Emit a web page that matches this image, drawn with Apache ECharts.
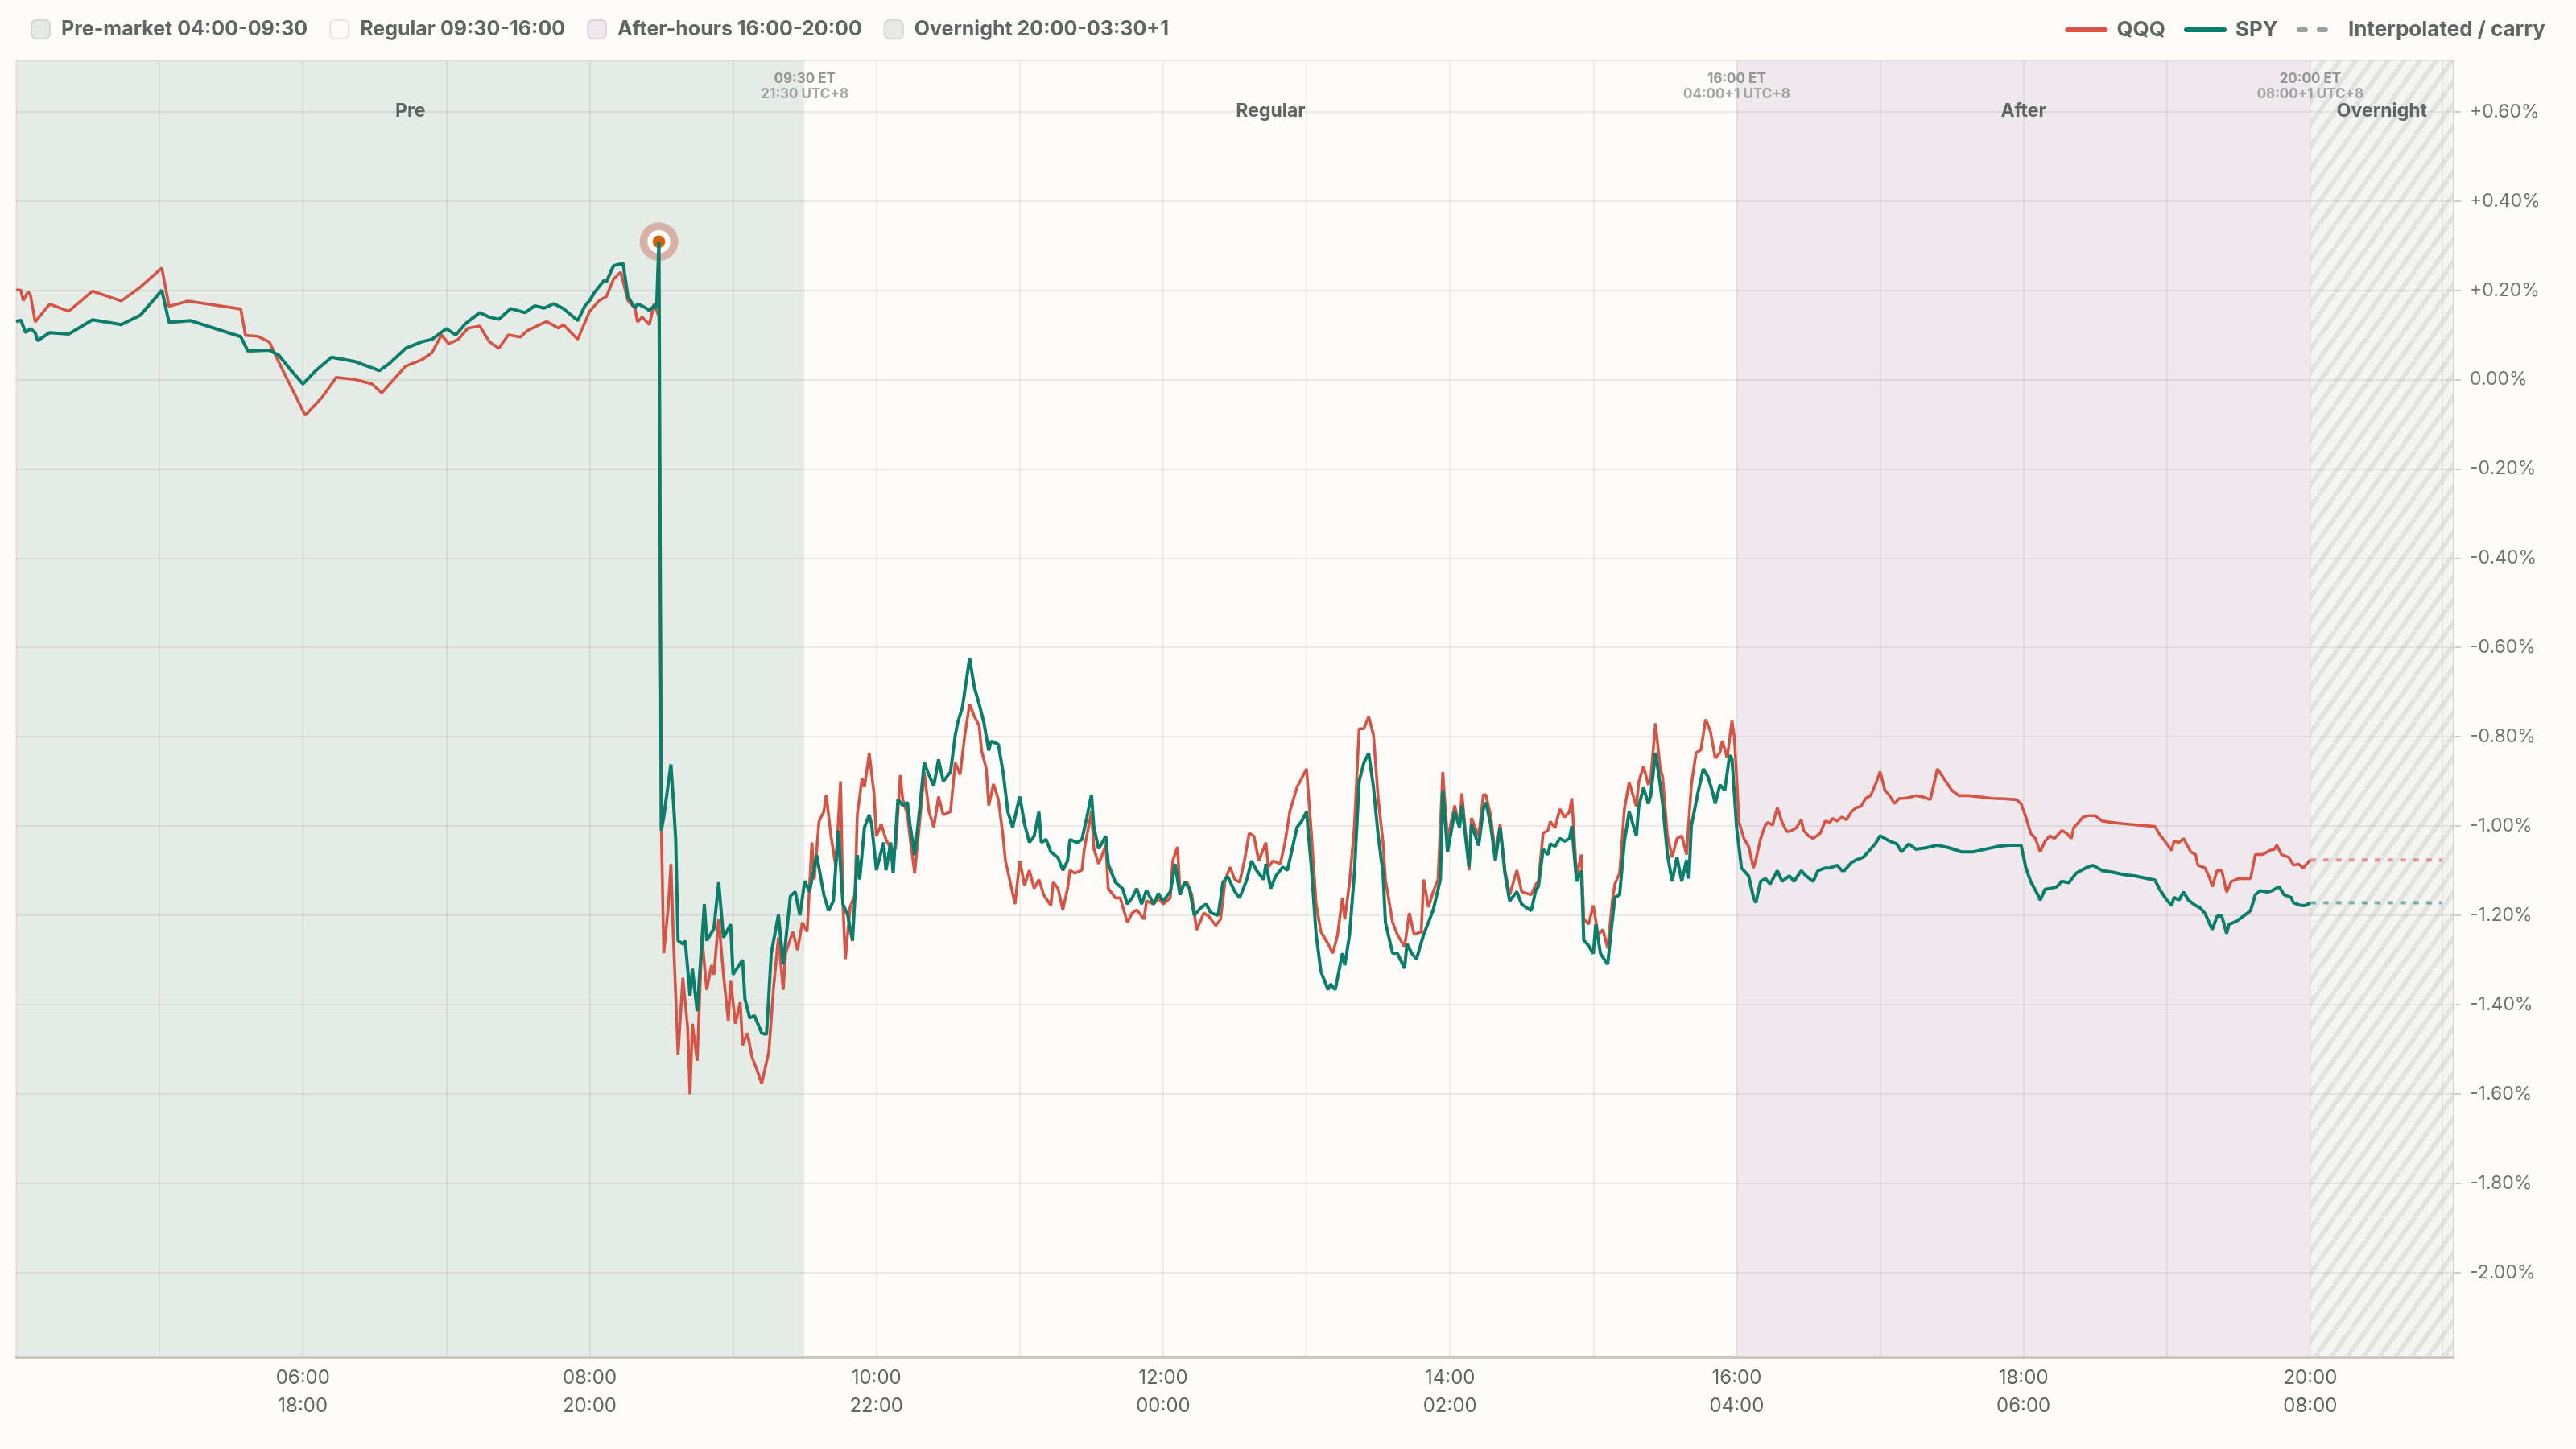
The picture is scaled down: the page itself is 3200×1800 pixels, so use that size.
<!DOCTYPE html>
<html>
<head>
<meta charset="utf-8">
<script src="https://cdn.jsdelivr.net/npm/echarts@6/dist/echarts.min.js"></script>
<style>
  html, body { margin: 0; padding: 0; background: #fdfcf8; }
  #chart { width: 3200px; height: 1800px; }
</style>
</head>
<body>
<div id="chart"></div>
<script>
// sessions (ET)
const SESSION_NAMES = ['Pre-market 04:00-09:30', 'Regular 09:30-16:00', 'After-hours 16:00-20:00', 'Overnight 20:00-03:30+1'];
const SESSION_TAGS = ['Pre', 'Regular', 'After', 'Overnight'];
const SESSION_START = ['04:00', '09:30', '16:00', '20:00'];
const SESSION_END = ['09:30', '16:00', '20:00', '21:00'];

const BOUNDARY_TIMES = ['09:30', '16:00', '20:00'];
const BOUNDARY_ET = ['09:30 ET', '16:00 ET', '20:00 ET'];
const BOUNDARY_LOCAL = ['21:30 UTC+8', '04:00+1 UTC+8', '08:00+1 UTC+8'];

const X_TICK_ET = ['06:00', '08:00', '10:00', '12:00', '14:00', '16:00', '18:00', '20:00'];
const X_TICK_LOCAL = ['18:00', '20:00', '22:00', '00:00', '02:00', '04:00', '06:00', '08:00'];

const EVENT_POINT = ['08:29', 0.309];
const CARRY_UNTIL = '20:55';

// % change vs previous close
const QQQ = [
  ['04:00',0.201],['04:02',0.200],['04:03',0.177],['04:05',0.197],['04:06',0.19],['04:08',0.129],['04:14',0.169],['04:22',0.153],
  ['04:32',0.198],['04:44',0.176],['04:52',0.207],['05:01',0.250],['05:04',0.164],['05:12',0.176],['05:34',0.158],['05:36',0.099],
  ['05:41',0.097],['05:46',0.084],['05:51',0.027],['06:01',-0.08],['06:08',-0.04],['06:14',0.005],['06:22',0.0],['06:29',-0.01],
  ['06:33',-0.03],['06:38',0.0],['06:43',0.03],['06:50',0.045],['06:54',0.06],['06:58',0.10],['07:01',0.08],['07:05',0.09],
  ['07:09',0.115],['07:14',0.12],['07:18',0.085],['07:22',0.07],['07:26',0.10],['07:31',0.095],['07:34',0.11],['07:38',0.12],
  ['07:42',0.13],['07:47',0.115],['07:49',0.123],['07:55',0.09],['08:00',0.153],['08:04',0.177],['08:07',0.186],['08:10',0.225],
  ['08:12',0.236],['08:13',0.24],['08:16',0.177],['08:19',0.159],['08:20',0.129],['08:22',0.14],['08:25',0.123],['08:27',0.17],
  ['08:29',0.14],['08:30',-1.0],['08:31',-1.285],['08:33',-1.175],['08:34',-1.085],['08:35',-1.243],['08:37',-1.512],['08:39',-1.34],
  ['08:41',-1.45],['08:42',-1.601],['08:43',-1.443],['08:45',-1.526],['08:47',-1.25],['08:49',-1.367],['08:51',-1.312],['08:52',-1.333],
  ['08:54',-1.209],['08:56',-1.333],['08:58',-1.436],['08:59',-1.347],['09:01',-1.443],['09:03',-1.395],['09:04',-1.491],['09:06',-1.464],
  ['09:08',-1.519],['09:10',-1.546],['09:12',-1.577],['09:15',-1.505],['09:17',-1.36],['09:19',-1.25],['09:21',-1.367],['09:22',-1.285],
  ['09:25',-1.237],['09:27',-1.278],['09:29',-1.216],['09:31',-1.237],['09:33',-1.037],['09:34',-1.12],['09:36',-0.989],['09:38',-0.968],
  ['09:39',-0.93],['09:41',-1.023],['09:43',-1.092],['09:45',-0.9],['09:46',-1.175],['09:47',-1.298],['09:49',-1.182],['09:51',-1.154],
  ['09:52',-0.975],['09:54',-0.893],['09:55',-0.913],['09:57',-0.837],['09:59',-0.927],['10:00',-1.023],['10:02',-0.996],['10:04',-1.03],
  ['10:06',-1.051],['10:08',-1.051],['10:10',-0.886],['10:11',-0.94],['10:13',-0.975],['10:14',-1.023],['10:16',-1.106],['10:18',-0.996],
  ['10:20',-0.879],['10:22',-0.968],['10:24',-1.003],['10:26',-0.934],['10:28',-0.975],['10:31',-0.968],['10:33',-0.858],['10:35',-0.885],
  ['10:37',-0.796],['10:39',-0.727],['10:41',-0.755],['10:43',-0.775],['10:44',-0.831],['10:46',-0.872],['10:47',-0.954],['10:49',-0.906],
  ['10:51',-0.94],['10:53',-1.023],['10:54',-1.078],['10:56',-1.126],['10:58',-1.175],['11:00',-1.078],['11:02',-1.133],['11:04',-1.099],
  ['11:06',-1.14],['11:08',-1.12],['11:10',-1.154],['11:13',-1.178],['11:14',-1.126],['11:16',-1.14],['11:18',-1.188],['11:20',-1.14],
  ['11:21',-1.099],['11:23',-1.106],['11:26',-1.099],['11:27',-1.051],['11:30',-0.968],['11:31',-1.051],['11:33',-1.085],['11:36',-1.044],
  ['11:37',-1.14],['11:40',-1.161],['11:42',-1.161],['11:45',-1.216],['11:47',-1.195],['11:49',-1.188],['11:52',-1.209],['11:53',-1.168],
  ['11:56',-1.175],['11:58',-1.161],['12:00',-1.175],['12:03',-1.161],['12:04',-1.078],['12:06',-1.047],['12:07',-1.14],['12:10',-1.126],
  ['12:12',-1.154],['12:14',-1.233],['12:17',-1.195],['12:19',-1.202],['12:22',-1.223],['12:24',-1.209],['12:26',-1.12],['12:28',-1.092],
  ['12:30',-1.12],['12:32',-1.126],['12:34',-1.078],['12:36',-1.016],['12:38',-1.023],['12:40',-1.078],['12:43',-1.037],['12:44',-1.092],
  ['12:46',-1.078],['12:49',-1.085],['12:51',-1.037],['12:53',-0.968],['12:56',-0.913],['12:58',-0.893],['13:00',-0.872],['13:02',-1.016],
  ['13:04',-1.175],['13:06',-1.237],['13:09',-1.264],['13:11',-1.285],['13:13',-1.243],['13:15',-1.161],['13:16',-1.209],['13:18',-1.126],
  ['13:20',-1.003],['13:22',-0.782],['13:24',-0.782],['13:26',-0.755],['13:28',-0.796],['13:30',-0.94],['13:32',-1.037],['13:33',-1.12],
  ['13:36',-1.216],['13:38',-1.243],['13:41',-1.271],['13:43',-1.195],['13:45',-1.243],['13:48',-1.237],['13:49',-1.12],['13:51',-1.182],
  ['13:53',-1.147],['13:55',-1.12],['13:57',-0.879],['13:59',-1.03],['14:02',-0.954],['14:04',-1.003],['14:05',-0.927],['14:08',-1.099],
  ['14:09',-0.982],['14:12',-1.023],['14:14',-0.93],['14:15',-0.93],['14:17',-0.975],['14:19',-1.065],['14:21',-0.996],['14:23',-1.099],
  ['14:25',-1.154],['14:28',-1.099],['14:30',-1.147],['14:34',-1.154],['14:36',-1.13],['14:37',-1.124],['14:39',-1.016],['14:41',-1.01],
  ['14:42',-0.99],['14:44',-1.004],['14:46',-0.962],['14:48',-0.98],['14:50',-0.968],['14:51',-0.938],['14:53',-1.112],['14:55',-1.064],
  ['14:56',-1.208],['14:58',-1.22],['15:00',-1.178],['15:02',-1.244],['15:04',-1.232],['15:06',-1.274],['15:08',-1.166],['15:09',-1.13],
  ['15:11',-1.106],['15:13',-0.962],['15:15',-0.902],['15:18',-0.956],['15:19',-0.902],['15:21',-0.866],['15:23',-0.908],['15:24',-0.896],
  ['15:26',-0.77],['15:28',-0.872],['15:29',-0.89],['15:31',-1.022],['15:33',-1.07],['15:35',-1.028],['15:37',-1.022],['15:39',-1.064],
  ['15:41',-0.908],['15:43',-0.836],['15:45',-0.83],['15:47',-0.761],['15:49',-0.788],['15:51',-0.848],['15:53',-0.836],['15:54',-0.809],
  ['15:56',-0.848],['15:58',-0.764],['15:59',-0.8],['16:01',-0.992],['16:03',-1.028],['16:05',-1.046],['16:07',-1.094],['16:08',-1.076],
  ['16:10',-1.028],['16:12',-0.998],['16:13',-0.992],['16:15',-0.998],['16:17',-0.959],['16:19',-0.992],['16:21',-1.013],['16:23',-1.01],
  ['16:25',-1.004],['16:27',-0.986],['16:28',-1.01],['16:30',-1.022],['16:32',-1.028],['16:35',-1.016],['16:37',-0.989],['16:39',-0.992],
  ['16:40',-0.983],['16:42',-0.989],['16:44',-0.98],['16:46',-0.986],['16:48',-0.968],['16:50',-0.959],['16:52',-0.956],['16:54',-0.938],
  ['16:56',-0.932],['16:58',-0.908],['17:00',-0.878],['17:02',-0.92],['17:04',-0.932],['17:06',-0.95],['17:08',-0.938],['17:10',-0.938],
  ['17:13',-0.935],['17:15',-0.932],['17:18',-0.935],['17:21',-0.941],['17:24',-0.872],['17:27',-0.896],['17:30',-0.92],['17:33',-0.932],
  ['17:37',-0.932],['17:42',-0.935],['17:47',-0.938],['17:52',-0.939],['17:57',-0.941],['17:59',-0.95],['18:01',-0.98],['18:03',-1.016],
  ['18:05',-1.028],['18:07',-1.058],['18:09',-1.034],['18:11',-1.022],['18:13',-1.028],['18:16',-1.01],['18:18',-1.016],['18:20',-1.028],
  ['18:21',-1.004],['18:23',-0.992],['18:25',-0.98],['18:27',-0.977],['18:30',-0.977],['18:33',-0.989],['18:37',-0.992],['18:42',-0.995],
  ['18:48',-0.998],['18:55',-1.001],['18:57',-1.019],['19:00',-1.04],['19:02',-1.055],['19:03',-1.034],['19:05',-1.037],['19:07',-1.028],
  ['19:10',-1.058],['19:12',-1.064],['19:13',-1.088],['19:16',-1.094],['19:18',-1.118],['19:19',-1.136],['19:21',-1.1],['19:23',-1.1],
  ['19:25',-1.148],['19:27',-1.124],['19:30',-1.118],['19:32',-1.118],['19:35',-1.118],['19:37',-1.064],['19:40',-1.064],['19:43',-1.055],
  ['19:45',-1.052],['19:46',-1.043],['19:48',-1.064],['19:51',-1.07],['19:53',-1.088],['19:55',-1.085],['19:57',-1.094],['20:00',-1.076]
];

const SPY = [
  ['04:00',0.130],['04:02',0.133],['04:04',0.105],['04:06',0.114],['04:08',0.105],['04:09',0.087],['04:14',0.105],['04:22',0.102],
  ['04:32',0.134],['04:44',0.123],['04:52',0.144],['05:01',0.200],['05:04',0.128],['05:13',0.132],['05:34',0.096],['05:37',0.064],
  ['05:46',0.066],['05:50',0.054],['05:55',0.021],['06:00',-0.01],['06:05',0.018],['06:12',0.05],['06:22',0.04],['06:32',0.02],
  ['06:36',0.035],['06:43',0.07],['06:50',0.085],['06:54',0.09],['07:00',0.114],['07:04',0.10],['07:08',0.125],['07:14',0.15],
  ['07:18',0.14],['07:22',0.135],['07:27',0.159],['07:33',0.15],['07:37',0.165],['07:41',0.16],['07:45',0.17],['07:49',0.159],
  ['07:55',0.132],['07:58',0.165],['08:00',0.177],['08:02',0.195],['08:06',0.222],['08:07',0.219],['08:10',0.255],['08:12',0.258],
  ['08:14',0.26],['08:16',0.186],['08:19',0.16],['08:20',0.17],['08:23',0.162],['08:25',0.155],['08:27',0.165],['08:28',0.16],
  ['08:29',0.309],['08:30',-1.01],['08:31',-0.98],['08:34',-0.862],['08:35',-0.94],['08:36',-1.03],['08:37',-1.257],['08:39',-1.264],
  ['08:40',-1.257],['08:42',-1.38],['08:43',-1.32],['08:45',-1.415],['08:48',-1.175],['08:49',-1.257],['08:52',-1.23],['08:54',-1.126],
  ['08:56',-1.25],['08:59',-1.22],['09:00',-1.333],['09:04',-1.30],['09:05',-1.388],['09:07',-1.43],['09:09',-1.425],['09:12',-1.464],
  ['09:14',-1.467],['09:16',-1.285],['09:19',-1.199],['09:21',-1.31],['09:24',-1.157],['09:26',-1.147],['09:28',-1.2],['09:30',-1.123],
  ['09:32',-1.147],['09:34',-1.092],['09:35',-1.065],['09:38',-1.154],['09:40',-1.19],['09:42',-1.168],['09:44',-1.01],['09:46',-1.175],
  ['09:48',-1.2],['09:50',-1.257],['09:52',-1.065],['09:53',-1.12],['09:55',-1.003],['09:57',-0.975],['09:58',-0.996],['10:00',-1.099],
  ['10:03',-1.037],['10:04',-1.099],['10:06',-1.037],['10:07',-1.106],['10:09',-0.94],['10:11',-0.954],['10:13',-0.947],['10:14',-0.996],
  ['10:16',-1.065],['10:18',-0.968],['10:20',-0.858],['10:22',-0.886],['10:24',-0.91],['10:26',-0.851],['10:28',-0.9],['10:31',-0.879],
  ['10:33',-0.796],['10:34',-0.769],['10:36',-0.734],['10:39',-0.624],['10:41',-0.69],['10:43',-0.727],['10:45',-0.769],['10:47',-0.831],
  ['10:48',-0.81],['10:51',-0.817],['10:53',-0.879],['10:55',-0.968],['10:57',-1.003],['11:00',-0.934],['11:02',-0.996],['11:04',-1.037],
  ['11:06',-1.023],['11:08',-0.968],['11:09',-1.037],['11:11',-1.03],['11:13',-1.058],['11:16',-1.071],['11:18',-1.099],['11:20',-1.078],
  ['11:21',-1.03],['11:24',-1.037],['11:26',-1.03],['11:28',-0.982],['11:30',-0.93],['11:31',-1.003],['11:33',-1.051],['11:36',-1.023],
  ['11:37',-1.085],['11:40',-1.126],['11:43',-1.14],['11:45',-1.175],['11:47',-1.161],['11:49',-1.14],['11:51',-1.175],['11:53',-1.144],
  ['11:56',-1.175],['11:58',-1.151],['12:00',-1.168],['12:03',-1.147],['12:05',-1.085],['12:07',-1.154],['12:09',-1.126],['12:11',-1.14],
  ['12:13',-1.2],['12:16',-1.182],['12:18',-1.175],['12:20',-1.195],['12:23',-1.2],['12:25',-1.126],['12:27',-1.113],['12:30',-1.147],
  ['12:32',-1.161],['12:35',-1.12],['12:37',-1.078],['12:39',-1.099],['12:42',-1.12],['12:43',-1.085],['12:45',-1.14],['12:47',-1.113],
  ['12:50',-1.092],['12:52',-1.099],['12:54',-1.051],['12:56',-1.003],['12:58',-0.989],['13:00',-0.968],['13:02',-1.092],['13:04',-1.243],
  ['13:06',-1.326],['13:09',-1.367],['13:10',-1.354],['13:12',-1.367],['13:15',-1.285],['13:16',-1.312],['13:18',-1.243],['13:20',-1.106],
  ['13:22',-0.9],['13:24',-0.858],['13:26',-0.837],['13:28',-0.913],['13:30',-1.023],['13:32',-1.106],['13:33',-1.216],['13:36',-1.285],
  ['13:38',-1.285],['13:41',-1.319],['13:42',-1.264],['13:44',-1.285],['13:46',-1.298],['13:49',-1.243],['13:51',-1.216],['13:53',-1.188],
  ['13:56',-1.12],['13:57',-0.92],['13:59',-1.058],['14:02',-0.968],['14:04',-1.003],['14:05',-0.954],['14:08',-1.092],['14:09',-0.996],
  ['14:12',-1.044],['14:14',-0.961],['14:15',-0.947],['14:17',-0.996],['14:19',-1.078],['14:21',-1.003],['14:23',-1.106],['14:25',-1.168],
  ['14:28',-1.147],['14:30',-1.175],['14:34',-1.19],['14:36',-1.142],['14:37',-1.136],['14:39',-1.052],['14:41',-1.064],['14:42',-1.04],
  ['14:44',-1.046],['14:46',-1.028],['14:48',-1.034],['14:50',-1.028],['14:51',-1.0],['14:53',-1.124],['14:55',-1.1],['14:56',-1.256],
  ['14:58',-1.268],['15:00',-1.286],['15:01',-1.22],['15:03',-1.286],['15:06',-1.31],['15:08',-1.208],['15:09',-1.16],['15:11',-1.154],
  ['15:13',-1.034],['15:15',-0.968],['15:18',-1.022],['15:19',-0.956],['15:21',-0.914],['15:23',-0.95],['15:24',-0.932],['15:26',-0.836],
  ['15:28',-0.908],['15:29',-0.95],['15:31',-1.064],['15:33',-1.124],['15:35',-1.07],['15:37',-1.124],['15:39',-1.076],['15:40',-1.118],
  ['15:41',-1.0],['15:44',-0.92],['15:46',-0.872],['15:48',-0.89],['15:50',-0.926],['15:51',-0.95],['15:53',-0.908],['15:55',-0.92],
  ['15:57',-0.842],['15:58',-0.848],['16:00',-1.006],['16:02',-1.094],['16:05',-1.112],['16:07',-1.16],['16:08',-1.172],['16:10',-1.124],
  ['16:12',-1.118],['16:14',-1.13],['16:17',-1.1],['16:19',-1.124],['16:22',-1.112],['16:24',-1.124],['16:27',-1.1],['16:29',-1.112],
  ['16:32',-1.124],['16:34',-1.1],['16:37',-1.094],['16:39',-1.094],['16:42',-1.088],['16:44',-1.1],['16:45',-1.1],['16:48',-1.082],
  ['16:50',-1.076],['16:53',-1.07],['16:55',-1.058],['16:58',-1.04],['17:00',-1.022],['17:02',-1.028],['17:04',-1.034],['17:07',-1.04],
  ['17:09',-1.058],['17:12',-1.04],['17:15',-1.052],['17:19',-1.049],['17:24',-1.043],['17:29',-1.049],['17:34',-1.058],['17:39',-1.058],
  ['17:44',-1.052],['17:49',-1.046],['17:54',-1.043],['17:59',-1.043],['18:01',-1.094],['18:03',-1.124],['18:06',-1.154],['18:07',-1.166],
  ['18:09',-1.142],['18:12',-1.139],['18:14',-1.136],['18:16',-1.124],['18:19',-1.127],['18:22',-1.106],['18:26',-1.094],['18:29',-1.088],
  ['18:33',-1.1],['18:37',-1.103],['18:42',-1.109],['18:47',-1.112],['18:52',-1.118],['18:55',-1.121],['18:57',-1.142],['19:00',-1.166],
  ['19:02',-1.178],['19:03',-1.16],['19:05',-1.166],['19:07',-1.148],['19:09',-1.166],['19:12',-1.178],['19:14',-1.184],['19:16',-1.196],
  ['19:18',-1.22],['19:19',-1.232],['19:21',-1.202],['19:23',-1.202],['19:25',-1.241],['19:26',-1.22],['19:29',-1.214],['19:32',-1.202],
  ['19:35',-1.19],['19:37',-1.154],['19:39',-1.145],['19:42',-1.148],['19:44',-1.145],['19:47',-1.136],['19:49',-1.154],['19:52',-1.16],
  ['19:53',-1.172],['19:56',-1.178],['19:58',-1.178],['20:00',-1.172]
];

// look
const FONT = 'Inter, "Noto Sans", sans-serif';
const BG = '#fdfcf8';
const TEXT = '#5e6663';
const RED = '#d65445';
const GREEN = '#0b7d6b';
const SESSION_FILL = ['#e5ebe6', BG, '#efe9ee', null];
const SESSION_ICON_FILL = ['#e3e9e4', '#fdfcf8', '#eee7ed', '#e8e8e7'];
const SESSION_ICON_BORDER = ['#d2d8d3', '#e8e5de', '#ddd5dc', '#d8d8d6'];
const Y_MIN = -2.19, Y_MAX = 0.715;

function toH(s) {
  const [h, m] = s.split(':').map(Number);
  return h + m / 60;
}

function hatch() {
  const w = 20, h = 28;
  const c = document.createElement('canvas');
  c.width = w; c.height = h;
  const g = c.getContext('2d');
  g.fillStyle = '#f4f4f2';
  g.fillRect(0, 0, w, h);
  g.strokeStyle = '#e2e3e1';
  g.lineWidth = 6;
  g.beginPath();
  [-w, 0, w].forEach(o => { g.moveTo(o, h); g.lineTo(o + w, 0); });
  g.stroke();
  return c;
}

const chart = echarts.init(document.getElementById('chart'), null, { renderer: 'canvas' });

const sessionSeries = SESSION_NAMES.map((name, i) => ({
  name,
  type: 'line',
  data: [],
  silent: true,
  markArea: {
    silent: true,
    z: -5,
    itemStyle: { color: i === 3 ? { image: hatch(), repeat: 'repeat' } : SESSION_FILL[i] },
    label: {
      show: true, position: 'insideTop', distance: 52,
      formatter: SESSION_TAGS[i],
      fontFamily: FONT, fontSize: 23, fontWeight: 700, color: TEXT
    },
    data: [[{ xAxis: toH(SESSION_START[i]) }, { xAxis: toH(SESSION_END[i]) }]]
  },
  markLine: i === 3 ? {
    silent: true, symbol: 'none', z: -4,
    lineStyle: { color: 'rgba(60,60,50,0.10)', width: 2, type: 'solid' },
    label: { show: false },
    data: [{ xAxis: toH(CARRY_UNTIL) }]
  } : undefined
}));

function carry(rows, color) {
  const last = rows[rows.length - 1];
  return {
    type: 'line',
    data: [[toH(last[0]), last[1]], [toH(CARRY_UNTIL), last[1]]],
    symbol: 'none',
    silent: true,
    z: 3,
    lineStyle: { color, width: 4, type: [7, 9], opacity: 0.55 }
  };
}

const option = {
  backgroundColor: BG,
  animation: false,
  grid: { left: 20, right: 152, top: 75, bottom: 114 },
  legend: [
    {
      data: SESSION_NAMES.map((n, i) => ({
        name: n, icon: 'roundRect',
        itemStyle: { color: SESSION_ICON_FILL[i], borderColor: SESSION_ICON_BORDER[i], borderWidth: 2 }
      })),
      left: 33, top: 19, itemWidth: 23, itemHeight: 23, itemGap: 27,
      selectedMode: false,
      textStyle: { fontFamily: FONT, fontSize: 25, fontWeight: 700, color: TEXT, padding: [0, 0, 0, 9] }
    },
    {
      data: ['QQQ', 'SPY', 'Interpolated / carry'],
      right: 33, top: 19, itemWidth: 47, itemHeight: 26, itemGap: 23,
      selectedMode: false,
      itemStyle: { opacity: 0 },
      lineStyle: { width: 6, cap: 'round' },
      textStyle: { fontFamily: FONT, fontSize: 26, fontWeight: 700, color: TEXT, padding: [0, 0, 0, 9] }
    }
  ],
  xAxis: {
    type: 'value', min: 4, max: 21, interval: 1,
    axisLine: { show: true, onZero: false, lineStyle: { color: '#cdc8bf', width: 3 } },
    axisTick: { show: false },
    axisLabel: {
      margin: 8, fontFamily: FONT, fontSize: 24, lineHeight: 35, color: TEXT,
      formatter: v => {
        const i = X_TICK_ET.findIndex(s => Math.abs(toH(s) - v) < 1e-6);
        return i < 0 ? '' : X_TICK_ET[i] + '\n' + X_TICK_LOCAL[i];
      }
    },
    splitLine: { show: true, lineStyle: { color: 'rgba(70,60,50,0.08)', width: 2 } }
  },
  yAxis: {
    type: 'value', position: 'right', min: Y_MIN, max: Y_MAX, splitNumber: 14,
    axisLine: { show: true, onZero: false, lineStyle: { color: '#d8d1c8', width: 2 } },
    axisTick: { show: true, length: 9, lineStyle: { color: '#d4d0c8', width: 2 } },
    axisLabel: {
      margin: 20, fontFamily: FONT, fontSize: 23, color: '#6c7471',
      showMinLabel: false, showMaxLabel: false,
      formatter: v => (v > 0.0001 ? '+' : '') + v.toFixed(2) + '%'
    },
    splitLine: { show: true, lineStyle: { color: 'rgba(70,60,50,0.09)', width: 2 } }
  },
  series: [
    ...sessionSeries,
    {
      name: 'Interpolated / carry', type: 'line', data: [], symbol: 'none',
      lineStyle: { color: '#9aa09d', width: 5, type: [8, 17] }, itemStyle: { color: '#9aa09d' }
    },
    carry(QQQ, RED),
    carry(SPY, GREEN),
    {
      name: 'QQQ', type: 'line', symbol: 'none', z: 4,
      data: QQQ.map(([t, v]) => [toH(t), v]),
      lineStyle: { color: RED, width: 3.6 }, itemStyle: { color: RED }
    },
    {
      name: 'SPY', type: 'line', symbol: 'none', z: 5,
      data: SPY.map(([t, v]) => [toH(t), v]),
      lineStyle: { color: GREEN, width: 4 }, itemStyle: { color: GREEN },
      markPoint: {
        silent: true, symbol: 'circle', label: { show: false },
        data: [
          { coord: [toH(EVENT_POINT[0]), EVENT_POINT[1]], symbolSize: 48, itemStyle: { color: 'rgba(196,98,80,0.42)' } },
          { coord: [toH(EVENT_POINT[0]), EVENT_POINT[1]], symbolSize: 22, itemStyle: { color: '#d4600c', borderColor: BG, borderWidth: 6.5 } }
        ]
      }
    },
    {
      type: 'scatter', silent: true, clip: false, z: 6,
      data: BOUNDARY_TIMES.map(t => [toH(t), Y_MAX]),
      symbolSize: 1, itemStyle: { color: 'rgba(0,0,0,0)' },
      label: {
        show: true, position: 'bottom', distance: 13,
        formatter: p => `{a|${BOUNDARY_ET[p.dataIndex]}}\n{b|${BOUNDARY_LOCAL[p.dataIndex]}}`,
        rich: {
          a: { fontFamily: FONT, fontSize: 17, fontWeight: 700, color: '#7b807d', lineHeight: 19 },
          b: { fontFamily: FONT, fontSize: 17, fontWeight: 700, color: '#8b8f8d', lineHeight: 19 }
        }
      }
    }
  ]
};

chart.setOption(option);
</script>
</body>
</html>
